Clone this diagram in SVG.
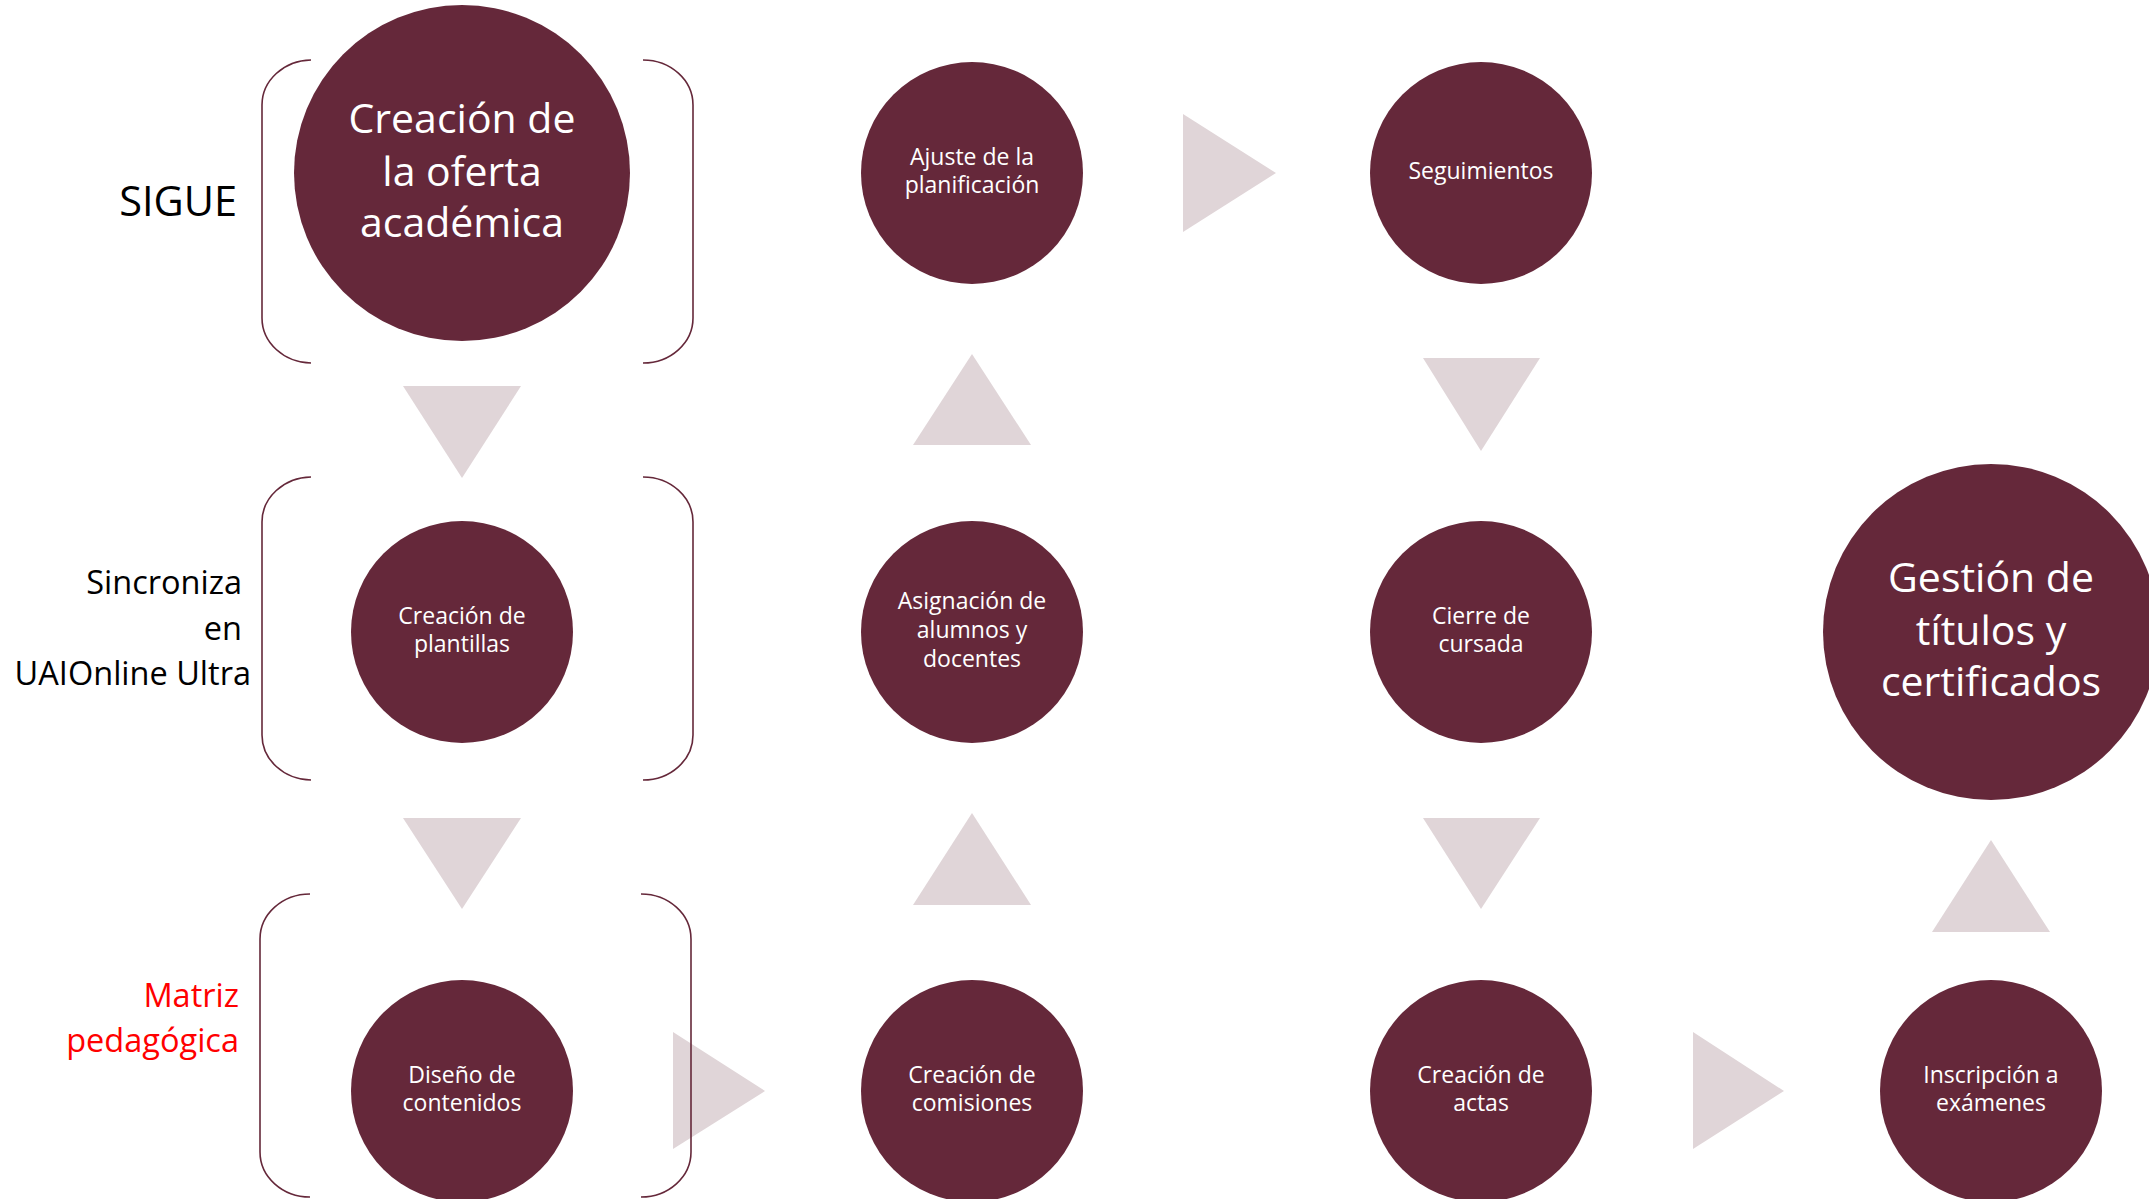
<svg xmlns="http://www.w3.org/2000/svg" width="2149" height="1199" viewBox="0 0 2149 1199">
<style>
.c{fill:#65283A}
.t{fill:#E0D5D8}
.b{fill:none;stroke:#65283A;stroke-width:1.6}
.w{fill:#FFFFFF;font-family:"Open Sans","Noto Sans",sans-serif;text-anchor:middle}
.s{font-size:23px}
.L{font-size:41px}
.lab{font-family:"Open Sans","Noto Sans",sans-serif;text-anchor:end;font-size:32.5px}
</style>
<rect width="2149" height="1199" fill="#FFFFFF"/>
<g id="connectors">
<polygon class="t" points="403,386 521,386 462,478"/>
<polygon class="t" points="913,445 1031,445 972,354"/>
<polygon class="t" points="1183,114 1183,232 1276,173"/>
<polygon class="t" points="1423,358 1540,358 1481,451"/>
<polygon class="t" points="403,818 521,818 462,909"/>
<polygon class="t" points="913,905 1031,905 972,813"/>
<polygon class="t" points="1423,818 1540,818 1481,909"/>
<polygon class="t" points="1932,932 2050,932 1991,840"/>
<polygon class="t" points="673,1032 673,1149 765,1091"/>
<polygon class="t" points="1693,1032 1693,1149 1784,1091"/>
</g>
<g id="brackets">
<path class="b" d="M311,60 A50,45 0 0 0 262,105 L262,318 A50,45 0 0 0 311,363"/>
<path class="b" d="M643,60 A50,45 0 0 1 693,105 L693,318 A50,45 0 0 1 643,363"/>
<path class="b" d="M311,477 A50,45 0 0 0 262,522 L262,735 A50,45 0 0 0 311,780"/>
<path class="b" d="M643,477 A50,45 0 0 1 693,522 L693,735 A50,45 0 0 1 643,780"/>
<path class="b" d="M310,894 A50,45 0 0 0 260,939 L260,1152 A50,45 0 0 0 310,1197"/>
<path class="b" d="M641,894 A50,45 0 0 1 691,939 L691,1152 A50,45 0 0 1 641,1197"/>
</g>
<g id="labels">
<text class="lab" x="237" y="216" style="font-size:41.5px" fill="#000000">SIGUE</text>
<text class="lab" x="242" y="594" fill="#000000">Sincroniza</text>
<text class="lab" x="242" y="640" fill="#000000">en</text>
<text class="lab" x="251" y="685" fill="#000000">UAIOnline Ultra</text>
<text class="lab" x="239" y="1007" fill="#FF0000">Matriz</text>
<text class="lab" x="239" y="1052" fill="#FF0000">pedagógica</text>
</g>
<g id="n-oferta">
<circle class="c" cx="462" cy="173" r="168"/>
<text class="w L" x="462" y="133">Creación de</text>
<text class="w L" x="462" y="186">la oferta</text>
<text class="w L" x="462" y="237">académica</text>
</g>
<g id="n-ajuste">
<circle class="c" cx="972" cy="173" r="111"/>
<text class="w s" x="972" y="165">Ajuste de la</text>
<text class="w s" x="972" y="193">planificación</text>
</g>
<g id="n-seguimientos">
<circle class="c" cx="1481" cy="173" r="111"/>
<text class="w s" x="1481" y="179">Seguimientos</text>
</g>
<g id="n-plantillas">
<circle class="c" cx="462" cy="632" r="111"/>
<text class="w s" x="462" y="624">Creación de</text>
<text class="w s" x="462" y="652">plantillas</text>
</g>
<g id="n-asignacion">
<circle class="c" cx="972" cy="632" r="111"/>
<text class="w s" x="972" y="609">Asignación de</text>
<text class="w s" x="972" y="638">alumnos y</text>
<text class="w s" x="972" y="667">docentes</text>
</g>
<g id="n-cierre">
<circle class="c" cx="1481" cy="632" r="111"/>
<text class="w s" x="1481" y="624">Cierre de</text>
<text class="w s" x="1481" y="652">cursada</text>
</g>
<g id="n-gestion">
<circle class="c" cx="1991" cy="632" r="168"/>
<text class="w L" x="1991" y="592">Gestión de</text>
<text class="w L" x="1991" y="645">títulos y</text>
<text class="w L" x="1991" y="696">certificados</text>
</g>
<g id="n-diseno">
<circle class="c" cx="462" cy="1091" r="111"/>
<text class="w s" x="462" y="1083">Diseño de</text>
<text class="w s" x="462" y="1111">contenidos</text>
</g>
<g id="n-comisiones">
<circle class="c" cx="972" cy="1091" r="111"/>
<text class="w s" x="972" y="1083">Creación de</text>
<text class="w s" x="972" y="1111">comisiones</text>
</g>
<g id="n-actas">
<circle class="c" cx="1481" cy="1091" r="111"/>
<text class="w s" x="1481" y="1083">Creación de</text>
<text class="w s" x="1481" y="1111">actas</text>
</g>
<g id="n-inscripcion">
<circle class="c" cx="1991" cy="1091" r="111"/>
<text class="w s" x="1991" y="1083">Inscripción a</text>
<text class="w s" x="1991" y="1111">exámenes</text>
</g>
</svg>
